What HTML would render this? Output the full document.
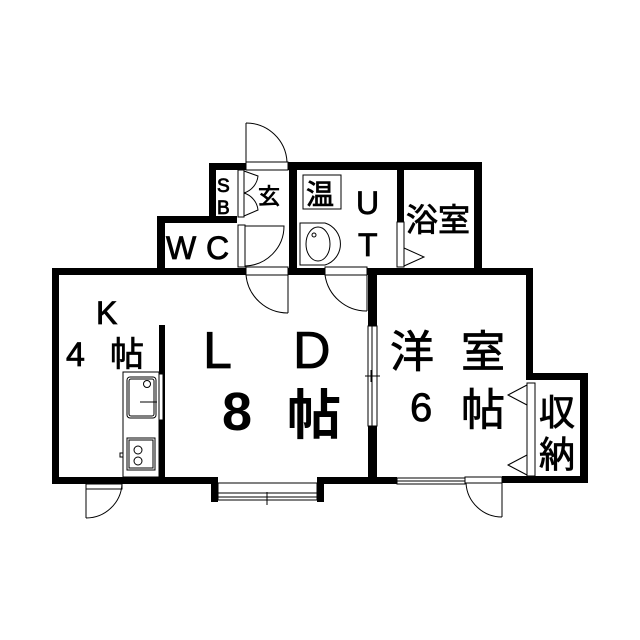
<!DOCTYPE html>
<html><head><meta charset="utf-8"><style>
html,body{margin:0;padding:0;background:#fff;}
svg{display:block}
text{font-family:"Liberation Sans","Noto Sans CJK JP",sans-serif;fill:#000}
</style></head><body>
<svg width="640" height="640" viewBox="0 0 640 640" xmlns="http://www.w3.org/2000/svg">
<rect width="640" height="640" fill="#fff"/>
<g fill="#000">
<rect x="52" y="268" width="7" height="216"/>
<rect x="52" y="268" width="194" height="7"/>
<rect x="288" y="268" width="37" height="7"/>
<rect x="367" y="268" width="166" height="7"/>
<rect x="52" y="477" width="166" height="7"/>
<rect x="211" y="477" width="7" height="25"/>
<rect x="317" y="477" width="7" height="25"/>
<rect x="317" y="477" width="80" height="7"/>
<rect x="502" y="476" width="86" height="7"/>
<rect x="526" y="268" width="7" height="110"/>
<rect x="526" y="373" width="62" height="7"/>
<rect x="580" y="373" width="8" height="110"/>
<rect x="159" y="325" width="6" height="155"/>
<rect x="368" y="268" width="9" height="58"/>
<rect x="368" y="426" width="9" height="55"/>
<rect x="288" y="162" width="194" height="8"/>
<rect x="474" y="162" width="8" height="113"/>
<rect x="289" y="162" width="8" height="113"/>
<rect x="397" y="162" width="7" height="60"/>
<rect x="209" y="163" width="37" height="7"/>
<rect x="209" y="163" width="7" height="60"/>
<rect x="157" y="216" width="80" height="7"/>
<rect x="157" y="216" width="8" height="59"/>
</g>
<g fill="none" stroke="#000" stroke-width="1">
<line x1="246" y1="123" x2="246" y2="162"/>
<path d="M246 123 A41 41 0 0 1 287 162"/>
<rect x="246" y="162" width="42" height="8"/>
<rect x="238" y="170" width="6" height="47"/>
<path d="M244 171 L258 176 A20 20 0 0 1 244 193 M244 216 L258 210 A20 20 0 0 0 244 193"/>
<rect x="238" y="225" width="7" height="42"/>
<path d="M245 226 L284 226 A40 40 0 0 1 245 266"/>
<rect x="246" y="267" width="42" height="8"/>
<line x1="288" y1="275" x2="288" y2="313"/>
<path d="M246 275 A42 42 0 0 0 288 313"/>
<rect x="325" y="267" width="42" height="8"/>
<line x1="367" y1="275" x2="367" y2="311"/>
<path d="M325 275 A42 42 0 0 0 367 311"/>
<path d="M300 223 L325 223 A22 22 0 0 1 325 265 L300 265 Z"/>
<ellipse cx="318" cy="244" rx="12" ry="17"/>
<circle cx="314" cy="235" r="2"/>
<rect x="303" y="175" width="38" height="34"/>
<rect x="397" y="222" width="7" height="45"/>
<path d="M404 248 L424 257 L404 266"/>
<rect x="368" y="326" width="9" height="100"/>
<line x1="372" y1="326" x2="372" y2="426"/>
<line x1="365" y1="376" x2="380" y2="376"/>
<line x1="371" y1="370" x2="371" y2="382"/>
<rect x="123" y="372" width="36" height="105"/>
<rect x="127" y="377" width="29" height="41" rx="3"/>
<rect x="129" y="379" width="25" height="37" rx="2"/>
<circle cx="147" cy="384" r="3.5"/>
<line x1="140" y1="402" x2="157" y2="402"/>
<rect x="127" y="438" width="28" height="32"/>
<rect x="129" y="440" width="24" height="28"/>
<circle cx="138" cy="450" r="4"/>
<circle cx="138" cy="461" r="4"/>
<rect x="120" y="453" width="3" height="4"/>
<rect x="159" y="374" width="4" height="46" fill="#fff"/>
<rect x="218" y="483" width="99" height="17"/>
<line x1="218" y1="493" x2="317" y2="493"/>
<line x1="218" y1="497" x2="317" y2="497"/>
<line x1="267" y1="492" x2="267" y2="505"/>
<rect x="86" y="484" width="36" height="5"/>
<line x1="86" y1="489" x2="86" y2="518"/>
<path d="M122 484 A36 36 0 0 1 86 518"/>
<rect x="397" y="478" width="68" height="6"/>
<line x1="397" y1="481" x2="465" y2="481"/>
<rect x="465" y="477" width="37" height="6"/>
<line x1="502" y1="483" x2="502" y2="517"/>
<path d="M466 483 A36 36 0 0 0 502 517"/>
<rect x="527" y="383" width="8" height="93"/>
<path d="M527 385 L508 395 L527 405 M527 455 L508 465 L527 475"/>
</g>
<g stroke="#000" stroke-width="0.8">
<text x="217" y="192" font-size="19">S</text>
<text x="217" y="214" font-size="19">B</text>
<text x="258" y="204" font-size="22">玄</text>
<text x="306" y="204" font-size="28">温</text>
<text x="356" y="214" font-size="32">U</text>
<text x="358" y="256" font-size="32">T</text>
<text x="406" y="231" font-size="32">浴室</text>
<text x="166" y="259" font-size="32">W</text>
<text x="206" y="259" font-size="32">C</text>
<text x="96" y="324" font-size="32">K</text>
<text x="66" y="366" font-size="34">4</text>
<text x="110" y="366" font-size="34">帖</text>
<text x="203" y="368" font-size="52">L</text>
<text x="293" y="368" font-size="52">D</text>
<text x="410" y="421" font-size="40">6</text>
<text x="390" y="367" font-size="44">洋</text>
<text x="461" y="367" font-size="44">室</text>
<text x="461" y="425" font-size="44">帖</text>
<text x="539" y="425" font-size="36">収</text>
<text x="539" y="467" font-size="36">納</text>
</g>
<text x="222" y="430" font-size="54" font-weight="bold">8</text>
<text x="287" y="434" font-size="54" font-weight="bold">帖</text>
</svg>
</body></html>
